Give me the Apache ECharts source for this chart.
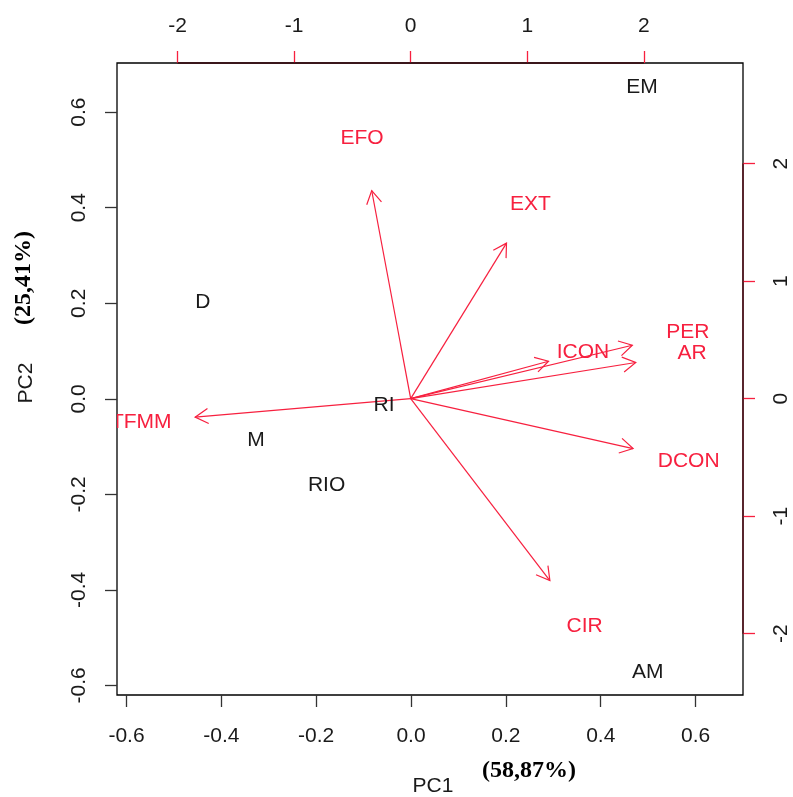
<!DOCTYPE html>
<html>
<head>
<meta charset="utf-8">
<script src="https://cdn.jsdelivr.net/npm/echarts@6/dist/echarts.min.js"></script>
<style>
  html, body { margin: 0; padding: 0; background: #fff; }
  #main { width: 793px; height: 797px; }
</style>
</head>
<body>
<div id="main"></div>
<script>
// observations (black) on PC1/PC2 score scale
const obsNames = ['EM', 'D', 'RI', 'M', 'RIO', 'AM'];
const obsPC1 = [0.487, -0.439, -0.057, -0.327, -0.178, 0.499];
const obsPC2 = [0.652, 0.202, -0.013, -0.086, -0.180, -0.573];

// variables (red) on loading scale, arrows drawn to 0.8 of these like R biplot
const varNames = ['EFO', 'EXT', 'ICON', 'PER', 'AR', 'DCON', 'CIR', 'TFMM'];
const varPC1 = [-0.418, 1.027, 1.478, 2.376, 2.413, 2.384, 1.492, -2.311];
const varPC2 = [2.213, 1.654, 0.398, 0.568, 0.384, -0.531, -1.935, -0.197];

const scoreTicks = [-0.6, -0.4, -0.2, 0, 0.2, 0.4, 0.6];
const loadTicks = [-2, -1, 0, 1, 2];

const RED = '#f7203f';
const INK = '#1a1a1a';
const SANS = '"Liberation Sans", Arial, sans-serif';

const chart = echarts.init(document.getElementById('main'));

const tickLabel = (margin, rotate, fmt) => ({
  margin: margin,
  rotate: rotate,
  color: INK,
  fontSize: 21,
  fontFamily: SANS,
  formatter: fmt
});

const textItem = (names, color) => (params, api) => {
  const p = api.coord([api.value(0), api.value(1)]);
  return {
    type: 'text',
    x: p[0],
    y: p[1],
    style: {
      text: names[params.dataIndex],
      fill: color,
      fontSize: 21,
      fontFamily: SANS,
      align: 'center',
      verticalAlign: 'middle'
    }
  };
};

const hiddenLine = { show: false, onZero: false };

const option = {
  animation: false,
  backgroundColor: '#fff',
  grid: {
    left: 117, top: 63, right: 50, bottom: 102,
    show: true, borderColor: '#000', borderWidth: 1.3, backgroundColor: 'transparent'
  },
  xAxis: [
    {
      type: 'value', position: 'bottom', min: -0.620, max: 0.700,
      axisLine: hiddenLine, splitLine: { show: false },
      axisTick: { show: true, customValues: scoreTicks, length: 12, lineStyle: { color: '#333', width: 1.3 } },
      axisLabel: Object.assign(tickLabel(31, 0, v => v.toFixed(1)), { customValues: scoreTicks })
    },
    {
      type: 'value', position: 'top', min: -2.519, max: 2.850,
      axisLine: hiddenLine, splitLine: { show: false },
      axisTick: { show: true, customValues: loadTicks, length: 12, lineStyle: { color: RED, width: 1.3 } },
      axisLabel: Object.assign(tickLabel(26, 0, v => String(v)), { customValues: loadTicks })
    }
  ],
  yAxis: [
    {
      type: 'value', position: 'left', min: -0.620, max: 0.703,
      axisLine: hiddenLine, splitLine: { show: false },
      axisTick: { show: true, customValues: scoreTicks, length: 12, lineStyle: { color: '#333', width: 1.3 } },
      axisLabel: Object.assign(tickLabel(27, 90, v => v.toFixed(1)), { customValues: scoreTicks })
    },
    {
      type: 'value', position: 'right', min: -2.522, max: 2.856,
      axisLine: hiddenLine, splitLine: { show: false },
      axisTick: { show: true, customValues: loadTicks, length: 12, lineStyle: { color: RED, width: 1.3 } },
      axisLabel: Object.assign(tickLabel(28, 90, v => String(v)), { customValues: loadTicks })
    }
  ],
  series: [
    {
      // red axis line between first and last loading tick, over the box
      type: 'custom', xAxisIndex: 1, yAxisIndex: 1, silent: true,
      data: [[0, 0]],
      renderItem: (params, api) => {
        const cs = params.coordSys;
        const a = api.coord([loadTicks[0], loadTicks[0]]);
        const b = api.coord([loadTicks[loadTicks.length - 1], loadTicks[loadTicks.length - 1]]);
        const st = { stroke: '#5a0c18', lineWidth: 1.3 };
        return {
          type: 'group',
          children: [
            { type: 'line', shape: { x1: a[0], y1: cs.y, x2: b[0], y2: cs.y }, style: { stroke: '#3a0a10', lineWidth: 1.3 } },
            { type: 'line', shape: { x1: cs.x + cs.width, y1: a[1], x2: cs.x + cs.width, y2: b[1] }, style: st }
          ]
        };
      }
    },
    {
      name: 'arrows', type: 'custom', xAxisIndex: 1, yAxisIndex: 1, silent: true, clip: true,
      data: varPC1.map((v, i) => [v, varPC2[i]]),
      renderItem: (params, api) => {
        const o = api.coord([0, 0]);
        const t = api.coord([api.value(0) * 0.8, api.value(1) * 0.8]);
        const ang = Math.atan2(t[1] - o[1], t[0] - o[0]);
        const L = 15, w = Math.PI / 6;
        const p1 = [t[0] - L * Math.cos(ang - w), t[1] - L * Math.sin(ang - w)];
        const p2 = [t[0] - L * Math.cos(ang + w), t[1] - L * Math.sin(ang + w)];
        const st = { stroke: RED, lineWidth: 1.2, fill: null };
        return {
          type: 'group',
          children: [
            { type: 'line', shape: { x1: o[0], y1: o[1], x2: t[0], y2: t[1] }, style: st },
            { type: 'polyline', shape: { points: [p1, t, p2] }, style: st }
          ]
        };
      }
    },
    {
      name: 'variables', type: 'custom', xAxisIndex: 1, yAxisIndex: 1, silent: true, clip: true,
      data: varPC1.map((v, i) => [v, varPC2[i]]),
      renderItem: textItem(varNames, RED)
    },
    {
      name: 'observations', type: 'custom', xAxisIndex: 0, yAxisIndex: 0, silent: true, clip: true,
      data: obsPC1.map((v, i) => [v, obsPC2[i]]),
      renderItem: textItem(obsNames, INK)
    }
  ],
  graphic: [
    { type: 'text', x: 433, y: 786, style: { text: 'PC1', fill: INK, fontSize: 21, fontFamily: SANS, align: 'center', verticalAlign: 'middle' } },
    { type: 'text', x: 529, y: 771, style: { text: '(58,87%)', fill: '#000', fontSize: 24, fontWeight: 'bold', fontFamily: '"Liberation Serif", "Times New Roman", serif', align: 'center', verticalAlign: 'middle' } },
    { type: 'text', x: 26, y: 383, rotation: Math.PI / 2, style: { text: 'PC2', fill: INK, fontSize: 21, fontFamily: SANS, align: 'center', verticalAlign: 'middle' } },
    { type: 'text', x: 24, y: 278, rotation: Math.PI / 2, style: { text: '(25,41%)', fill: '#000', fontSize: 24, fontWeight: 'bold', fontFamily: '"Liberation Serif", "Times New Roman", serif', align: 'center', verticalAlign: 'middle' } }
  ]
};

chart.setOption(option);
</script>
</body>
</html>
